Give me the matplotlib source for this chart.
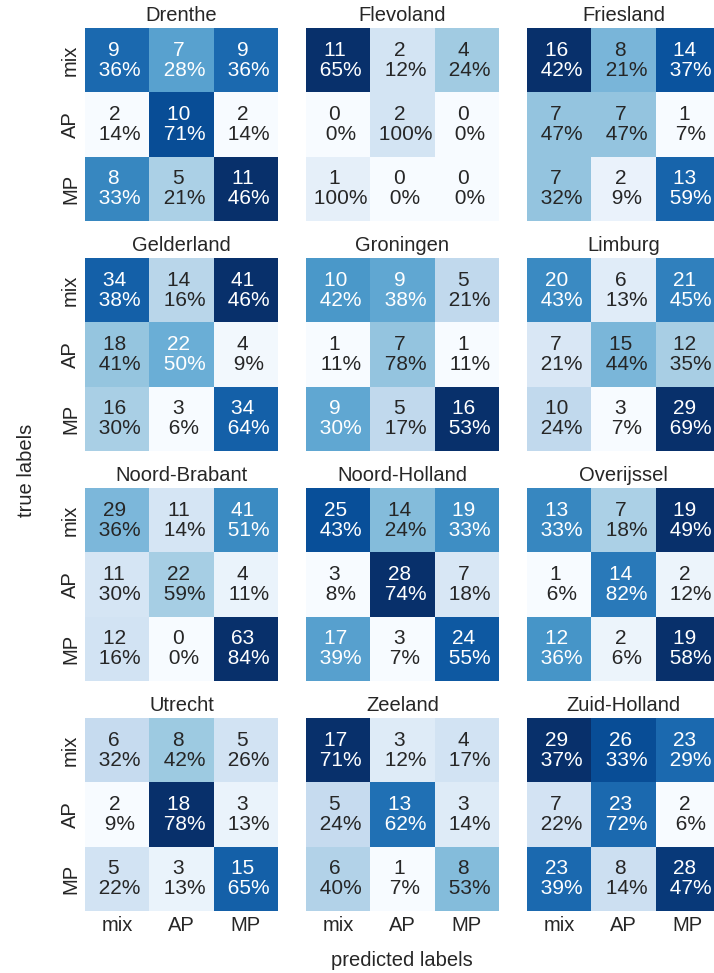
import numpy as np
import matplotlib

matplotlib.use("Agg")
import matplotlib.pyplot as plt
import seaborn as sns

labels = ["mix", "AP", "MP"]

provinces = ["Drenthe", "Flevoland", "Friesland",
             "Gelderland", "Groningen", "Limburg",
             "Noord-Brabant", "Noord-Holland", "Overijssel",
             "Utrecht", "Zeeland", "Zuid-Holland"]

# rows = true (mix, AP, MP), columns = predicted (mix, AP, MP)
drenthe = [[9, 7, 9], [2, 10, 2], [8, 5, 11]]
flevoland = [[11, 2, 4], [0, 2, 0], [1, 0, 0]]
friesland = [[16, 8, 14], [7, 7, 1], [7, 2, 13]]
gelderland = [[34, 14, 41], [18, 22, 4], [16, 3, 34]]
groningen = [[10, 9, 5], [1, 7, 1], [9, 5, 16]]
limburg = [[20, 6, 21], [7, 15, 12], [10, 3, 29]]
noord_brabant = [[29, 11, 41], [11, 22, 4], [12, 0, 63]]
noord_holland = [[25, 14, 19], [3, 28, 7], [17, 3, 24]]
overijssel = [[13, 7, 19], [1, 14, 2], [12, 2, 19]]
utrecht = [[6, 8, 5], [2, 18, 3], [5, 3, 15]]
zeeland = [[17, 3, 4], [5, 13, 3], [6, 1, 8]]
zuid_holland = [[29, 26, 23], [7, 23, 2], [23, 8, 28]]

matrices = [drenthe, flevoland, friesland,
            gelderland, groningen, limburg,
            noord_brabant, noord_holland, overijssel,
            utrecht, zeeland, zuid_holland]

sns.set_theme(style="white")
plt.rcParams["font.family"] = ["Liberation Sans", "DejaVu Sans"]

W, H = 714, 973
fig = plt.figure(figsize=(W / 100, H / 100), dpi=100)

col_left = [85, 306, 527]
row_top = [28, 258, 488, 718]
size = 193
fs = 14.5

for i, (name, m) in enumerate(zip(provinces, matrices)):
    r, c = divmod(i, 3)
    ax = fig.add_axes([col_left[c] / W, 1 - (row_top[r] + size) / H,
                       size / W, size / H])
    cm = np.array(m)
    pct = cm / cm.sum(axis=1, keepdims=True)
    annot = np.array([[f"{cm[a, b]} \n {pct[a, b]:.0%}" for b in range(3)]
                      for a in range(3)])
    sns.heatmap(cm, annot=annot, fmt="", cmap="Blues", cbar=False, ax=ax,
                annot_kws={"fontsize": 15, "linespacing": 1.05},
                xticklabels=labels if r == 3 else False,
                yticklabels=labels if c == 0 else False)
    ax.set_title(name, fontsize=fs, color="#262626", pad=5)
    ax.tick_params(labelsize=fs, colors="#262626", length=0)
    if c == 0:
        ax.set_yticklabels(labels, rotation=90, va="center")

fig.text(402 / W, 1 - 960 / H, "predicted labels", ha="center", va="center",
         fontsize=fs, color="#262626")
fig.text(27 / W, 1 - 470 / H, "true labels", ha="center", va="center",
         rotation=90, fontsize=fs, color="#262626")

fig.savefig("out.png", dpi=100)
